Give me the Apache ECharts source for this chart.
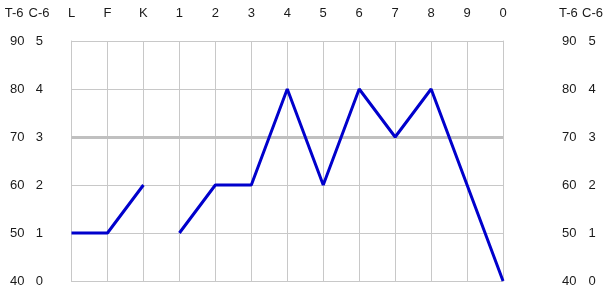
<!DOCTYPE html>
<html>
<head>
<meta charset="utf-8">
<script src="https://cdn.jsdelivr.net/npm/echarts@6/dist/echarts.min.js"></script>
<style>html,body{margin:0;padding:0;background:#fff;}#c{width:606px;height:298px;}</style>
</head>
<body>
<div id="c"></div>
<script>
var categories = ['L','F','K','1','2','3','4','5','6','7','8','9','0'];
// C-6 values, two separate segments (no connection between K and 1)
var segmentA = [1, 1, 2, null, null, null, null, null, null, null, null, null, null];
var segmentB = [null, null, null, 1, 2, 2, 4, 2, 4, 3, 4, 2, 0];
var referenceLevel = 3; // C-6 = 3 (T-6 = 70)
var t6Range = [40, 90, 10];
var c6Range = [0, 5, 1];

var FONT = 'Liberation Sans, Arial, sans-serif';
var TXT = '#1a1a1a';
var GRID = '#c8c8c8';

function yAxisDef(pos, range, margin, name, namePad, align, split) {
  return {
    type: 'value', position: pos, min: range[0], max: range[1], interval: range[2],
    name: name, nameLocation: 'end', nameGap: 28,
    nameTextStyle: { color: TXT, fontFamily: FONT, fontSize: 13, align: align, verticalAlign: 'middle', padding: namePad },
    axisLine: { show: split, lineStyle: { color: GRID, width: 1 } },
    axisTick: { show: false },
    axisLabel: { margin: margin, color: TXT, fontFamily: FONT, fontSize: 13, align: align },
    splitLine: { show: split, lineStyle: { color: GRID, width: 1 } }
  };
}

var chart = echarts.init(document.getElementById('c'), null, { renderer: 'canvas' });
chart.setOption({
  animation: false,
  backgroundColor: '#fff',
  grid: { left: 71.5, right: 102.5, top: 41, bottom: 17, containLabel: false },
  xAxis: {
    type: 'category', data: categories, position: 'top', boundaryGap: false,
    axisLine: { show: true, lineStyle: { color: GRID } },
    axisTick: { show: false },
    axisLabel: { margin: 28, color: TXT, fontFamily: FONT, fontSize: 13, verticalAlign: 'middle', interval: 0 },
    splitLine: { show: true, lineStyle: { color: GRID, width: 1 } }
  },
  yAxis: [
    yAxisDef('left', c6Range, 28.5, 'C-6', [0, 22, 0, 0], 'right', true),
    yAxisDef('left', t6Range, 47, 'T-6', [0, 48, 0, 0], 'right', false),
    yAxisDef('right', c6Range, 85.5, 'C-6', [0, 0, 0, 79], 'left', true),
    yAxisDef('right', t6Range, 59, 'T-6', [0, 0, 0, 56], 'left', false)
  ],
  series: [
    {
      type: 'line', yAxisIndex: 0, data: [], z: 1, silent: true,
      markLine: {
        silent: true, symbol: 'none', label: { show: false },
        lineStyle: { color: '#c0c0c0', width: 3, type: 'solid' },
        data: [{ yAxis: referenceLevel }]
      }
    },
    {
      type: 'line', yAxisIndex: 0, data: segmentA, z: 5, showSymbol: false, symbol: 'none',
      connectNulls: false, lineStyle: { color: '#0000cc', width: 3 }
    },
    {
      type: 'line', yAxisIndex: 0, data: segmentB, z: 5, showSymbol: false, symbol: 'none',
      connectNulls: false, lineStyle: { color: '#0000cc', width: 3 }
    }
  ]
});
</script>
</body>
</html>
